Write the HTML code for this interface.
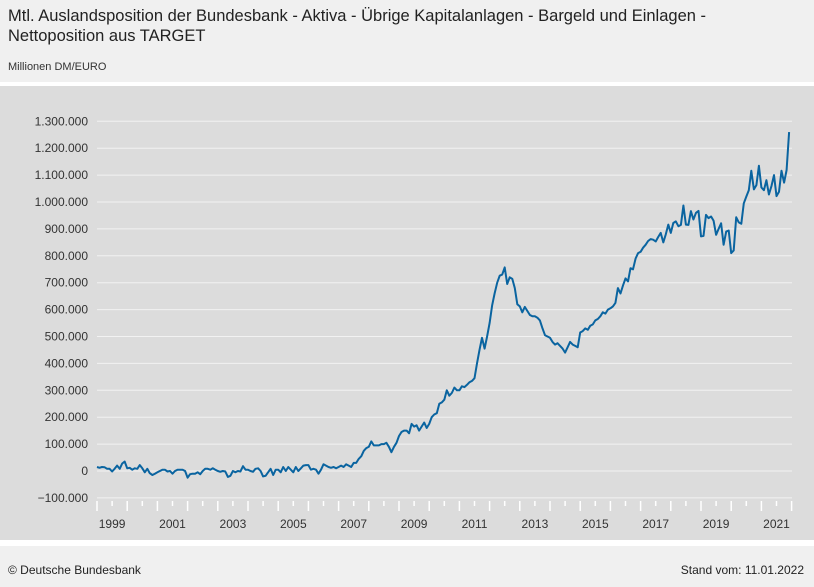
<!DOCTYPE html>
<html><head><meta charset="utf-8"><style>
body{margin:0;width:814px;height:587px;background:#fff;font-family:"Liberation Sans",sans-serif;overflow:hidden;position:relative}
#head{position:absolute;left:0;top:0;width:814px;height:82px;background:#f0f0f0}
#title{position:absolute;left:8px;top:6px;font-size:16.5px;line-height:20px;color:#222;width:720px}
#unit{position:absolute;left:8px;top:61px;font-size:11px;color:#333}
#panel{position:absolute;left:0;top:86px;width:814px;height:454px;background:#dcdcdc}
#foot{position:absolute;left:0;top:546px;width:814px;height:41px;background:#f0f0f0;font-size:12px;color:#222}
svg{position:absolute;left:0;top:0}
</style></head><body>
<div id="head">
<div id="title">Mtl. Auslandsposition der Bundesbank - Aktiva - Übrige Kapitalanlagen - Bargeld und Einlagen - Nettoposition aus TARGET</div>
<div id="unit">Millionen DM/EURO</div>
</div>
<div id="panel"></div>
<div id="foot">
<span style="position:absolute;left:8px;top:17px">© Deutsche Bundesbank</span>
<span style="position:absolute;right:10px;top:17px">Stand vom: 11.01.2022</span>
</div>
<svg id="chart" width="814" height="587"></svg>
<script>
const yTicks=[-100000,0,100000,200000,300000,400000,500000,600000,700000,800000,900000,1000000,1100000,1200000,1300000];
const yearLabels=[1999,2001,2003,2005,2007,2009,2011,2013,2015,2017,2019,2021];
const startYear=1999;
const values=[
15,12,15,14,8,8,-2,8,20,8,28,35,
10,12,5,10,8,22,10,-5,8,-8,-15,-10,
-5,0,5,5,-2,0,-10,0,5,5,5,0,
-25,-12,-10,-10,-5,-12,0,8,8,5,10,5,
0,-3,0,-2,-22,-18,0,-5,0,-2,18,5,
5,0,-3,8,10,0,-20,-18,-5,8,-15,5,
5,-5,15,0,15,5,-5,15,0,10,20,22,
22,5,8,5,-10,5,25,20,15,12,15,10,
15,20,15,25,20,15,30,30,45,55,75,85,
90,110,95,95,95,100,100,105,90,70,90,105,
130,145,150,150,140,175,165,170,150,165,180,160,
175,200,210,215,250,255,265,300,280,290,310,300,
300,315,312,320,330,335,345,400,450,495,455,500,
550,615,660,700,726,730,757,695,720,714,680,620,
612,590,610,595,580,575,575,570,560,530,505,500,
495,480,470,475,465,455,440,460,480,470,465,460,
515,520,530,525,540,545,560,565,575,590,585,600,
605,612,625,680,660,690,716,705,754,750,790,810,
815,830,841,855,862,860,853,870,885,850,880,916,
885,922,928,910,915,987,916,915,966,935,960,967,
872,874,952,940,946,930,878,900,921,841,890,894,
810,820,943,924,919,995,1020,1044,1116,1047,1063,1135,
1054,1044,1081,1028,1060,1100,1022,1038,1116,1072,1119,1260
];
const X0=97,PX_YEAR=30.2,Y0=471,PX_100K=26.9;
function xm(m){return X0+m*PX_YEAR/12;}
function yv(v){return Y0-v/100000*PX_100K;}
const svg=document.getElementById('chart');const NS='http://www.w3.org/2000/svg';
function mk(t,a){const e=document.createElementNS(NS,t);for(const k in a)e.setAttribute(k,a[k]);svg.appendChild(e);return e;}
yTicks.forEach(t=>{
 const y=yv(t);
 const g=mk('line',{x1:97,x2:792,y1:y,y2:y,stroke:'#f2f2f2','stroke-width':1});
 
 
 const l=mk('text',{x:88,y:y+4,'text-anchor':'end','font-size':12,fill:'#333'});
 l.textContent=(t<0?'−':'')+Math.abs(t).toString().replace(/\B(?=(\d{3})+(?!\d))/g,'.');
 
 
});
for(let h=0;h<=46;h++){
 const x=xm(h*6);const major=h%2===0;
 const t=mk('line',{x1:x,x2:x,y1:501,y2:major?511:506,stroke:'#fff','stroke-width':1.5});
 
 
}
yearLabels.forEach(yr=>{
 const l=mk('text',{x:xm((yr-startYear)*12+6),y:528,'text-anchor':'middle','font-size':12,fill:'#333'});
 l.textContent=yr;
 
 
});
const pts=values.map((v,i)=>xm(i).toFixed(1)+','+yv(v*1000).toFixed(1)).join(' ');
const line=mk('polyline',{points:pts,fill:'none',stroke:'#0a64a0','stroke-width':2,'stroke-linejoin':'round'});


</script>
</body></html>
